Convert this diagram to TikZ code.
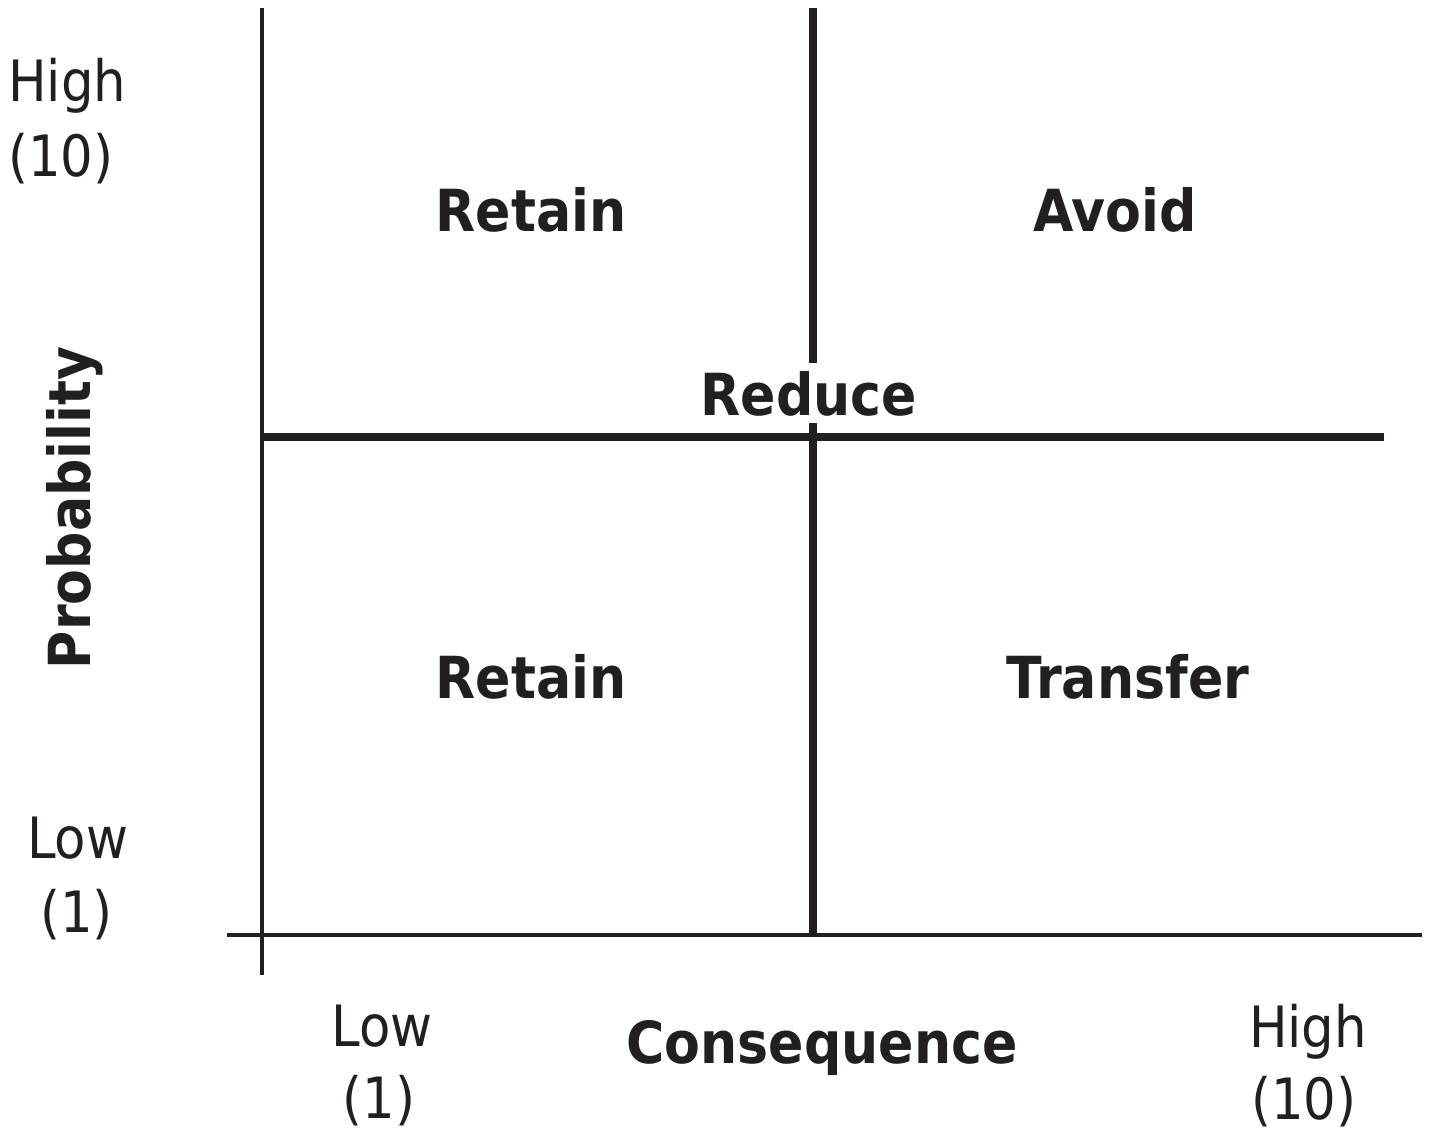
\documentclass[tikz,border=0pt]{standalone}
\usepackage{fontspec}
\setmainfont{DejaVu Sans Condensed}
\begin{document}
\begin{tikzpicture}[x=1pt,y=-1pt,
  ink/.style={draw=inkc},
  axis/.style={ink, line width=4.5pt},
  divider/.style={ink, line width=8.5pt},
  scale label/.style={text=inkc, inner sep=0pt, font=\fontsize{57}{57}\selectfont},
  zone/.style={text=inkc, inner sep=0pt, font=\fontsize{58}{58}\selectfont\bfseries},
]
\definecolor{inkc}{HTML}{231F20}
\useasboundingbox (0,0) rectangle (1429,1140);

% axes
\coordinate (yaxTop) at (262,8);
\coordinate (yaxBot) at (262,975);
\coordinate (xaxL) at (227,935);
\coordinate (xaxR) at (1422,935);
\draw[axis] (yaxTop) -- (yaxBot);
\draw[axis] (xaxL) -- (xaxR);

% quadrant dividers
\coordinate (vTop) at (813,8);
\coordinate (vGapTop) at (813,363);
\coordinate (vGapBot) at (813,423);
\coordinate (vBot) at (813,935);
\coordinate (hL) at (262,437);
\coordinate (hR) at (1384,437);
\draw[divider] (vTop) -- (vGapTop);
\draw[divider] (vGapBot) -- (vBot);
\draw[divider] (hL) -- (hR);

% quadrant labels
\node[zone, anchor=base] (retainHi) at (531,231) {Retain};
\node[zone, anchor=base] (avoid) at (1115,231) {Avoid};
\node[zone, anchor=base] (reduce) at (809,415) {Reduce};
\node[zone, anchor=base] (retainLo) at (531,698) {Retain};
\node[zone, anchor=base] (transfer) at (1128,698) {Transfer};

% axis titles
\node[zone, anchor=base, rotate=90] (prob) at (90,508) {Probability};
\node[zone, anchor=base] (cons) at (822,1063) {Consequence};

% scale ends
\node[scale label, anchor=base west] (yHigh) at (8,101) {High};
\node[scale label, anchor=base west] (yHighN) at (8,176) {(10)};
\node[scale label, anchor=base west] (yLow) at (27,858) {Low};
\node[scale label, anchor=base west] (yLowN) at (40,932) {(1)};
\node[scale label, anchor=base] (xLow) at (382,1046) {Low};
\node[scale label, anchor=base] (xLowN) at (379,1118) {(1)};
\node[scale label, anchor=base] (xHigh) at (1308,1047) {High};
\node[scale label, anchor=base] (xHighN) at (1304,1119) {(10)};
\end{tikzpicture}
\end{document}
